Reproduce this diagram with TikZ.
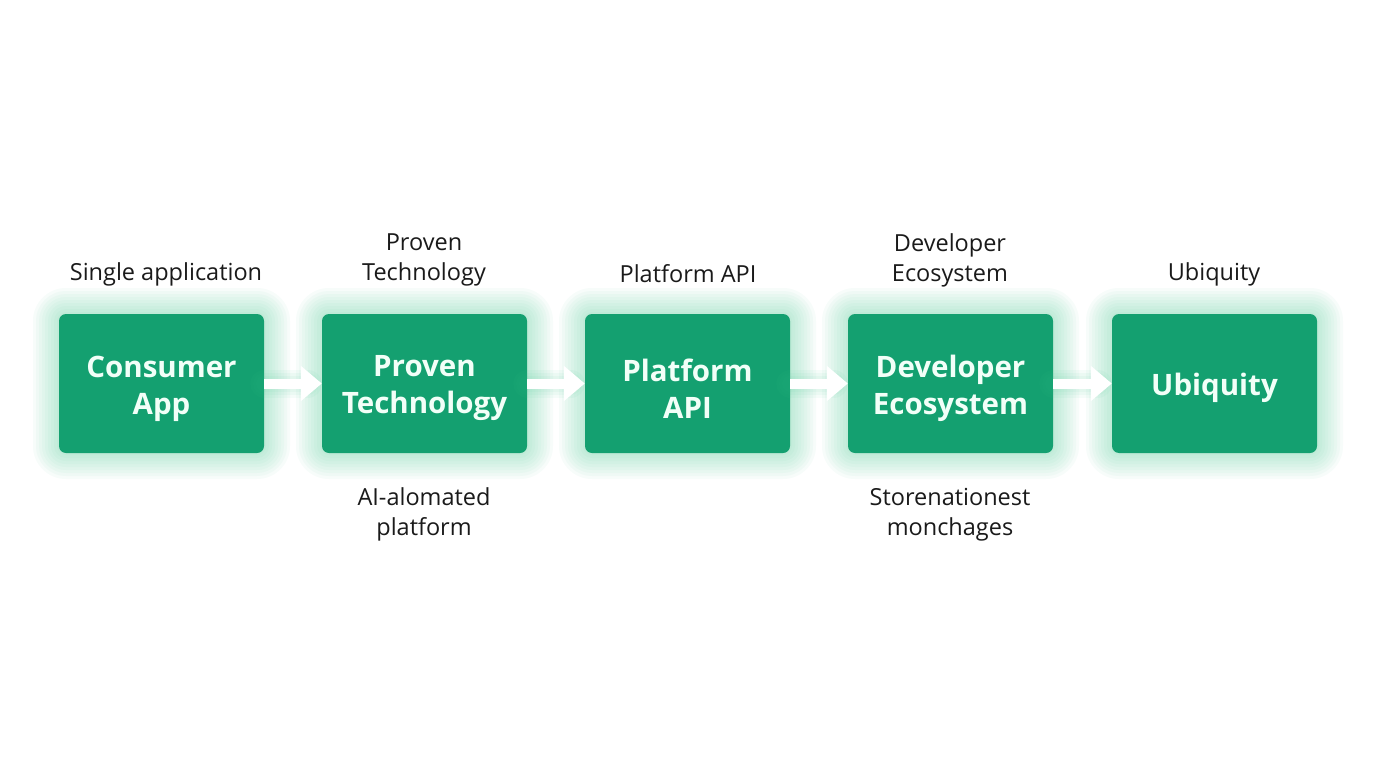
\documentclass[tikz,border=0pt]{standalone}
\usepackage{fontspec}
\setmainfont{Open Sans}
\usetikzlibrary{arrows.meta}
\definecolor{boxgreen}{HTML}{14A070}
\definecolor{glowgreen}{HTML}{3CC88E}
\definecolor{txtwhite}{HTML}{F2FFF8}
\definecolor{lbl}{HTML}{1A1A1A}
\tikzset{
  x=1pt,y=-1pt,
  stage/.style={fill=boxgreen, rounded corners=7pt, minimum width=205pt, minimum height=139pt, inner sep=0pt},
  stagetext/.style={text=txtwhite, font=\bfseries\fontsize{29.5}{37}\selectfont, align=center, inner sep=0pt},
  lab/.style={text=lbl, font=\fontsize{23.5}{30}\selectfont, align=center, inner sep=0pt},
  flow/.style={white, line width=10pt, -{Triangle[length=21pt,width=34pt]}},
  flowglow/.style={glowgreen, opacity=0.05, line width=#1, line cap=round},
}
\begin{document}
\begin{tikzpicture}
\useasboundingbox (0,0) rectangle (1376,768);
\fill[white] (0,0) rectangle (1376,768);
\coordinate (pa) at (161.5,383.5);
\coordinate (pb) at (424.5,383.5);
\coordinate (pc) at (687.5,383.5);
\coordinate (pd) at (950.5,383.5);
\coordinate (pe) at (1214.5,383.5);
\foreach \n in {pa,pb,pc,pd,pe}{%
  \foreach \g in {26,23,20,17,14,11,8,5,2}{%
    \fill[glowgreen, opacity=0.04, rounded corners=7pt+\g pt] ([xshift=-102.5pt-\g pt,yshift=69.5pt+\g pt]\n) rectangle ([xshift=102.5pt+\g pt,yshift=-69.5pt-\g pt]\n);
  }}
\node[stage] (a) at (pa) {};
\node[stage] (b) at (pb) {};
\node[stage] (c) at (pc) {};
\node[stage] (d) at (pd) {};
\node[stage] (e) at (pe) {};
\node[stagetext] (ta1) at ([yshift=-5pt]a.center) {Consumer\\App};
\node[stagetext] (tb1) at ([yshift=-5pt]b.center) {Proven\\Technology};
\node[stagetext] (tc1) at ([yshift=-5pt]c.center) {Platform\\API};
\node[stagetext] (td1) at ([yshift=-5pt]d.center) {Developer\\Ecosystem};
\node[stagetext] (te1) at ([yshift=-4pt]e.center) {Ubiquity};
\foreach \s/\t in {a/b,b/c,c/d,d/e}{%
  \foreach \w in {28,22,16}{\draw[flowglow=\w pt] (\s.east) -- ([xshift=-14pt]\t.west);}
  \draw[flow] (\s.east) -- (\t.west);
}
\node[lab] (ta) at (166,274) {Single application};
\node[lab] (tb) at (424,260) {Proven\\Technology};
\node[lab] (tc) at (688,274) {Platform API};
\node[lab] (td) at (950,260) {Developer\\Ecosystem};
\node[lab] (te) at (1214,274) {Ubiquity};
\node[lab] (bb) at (424,514.5) {AI-alomated\\platform};
\node[lab] (bd) at (950,514.5) {Storenationest\\monchages};
\end{tikzpicture}
\end{document}
